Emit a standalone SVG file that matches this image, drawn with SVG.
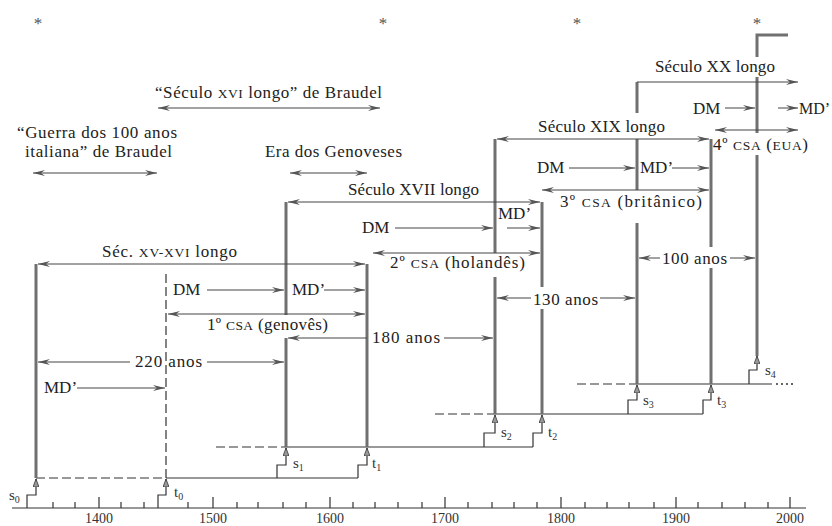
<svg xmlns="http://www.w3.org/2000/svg" width="832" height="526" viewBox="0 0 832 526">
<defs>
<style>
.t{font-family:"Liberation Serif","Times New Roman",serif;font-size:17px;fill:#222}
.sc{font-size:13.5px}
.yr{font-family:"Liberation Serif","Times New Roman",serif;font-size:14px;fill:#333;text-anchor:middle}
.st{font-family:"Liberation Serif","Times New Roman",serif;font-size:15px;fill:#333}
.sub{font-size:10px}
.star{font-family:"Liberation Serif",serif;font-size:17px;fill:#555;text-anchor:middle}
.thin{stroke:#444;stroke-width:1;fill:none}
.arr{stroke:#444;stroke-width:1;fill:none;marker-end:url(#ah)}
.darr{stroke:#444;stroke-width:1;fill:none;marker-start:url(#ah);marker-end:url(#ah)}
.sarr{stroke:#444;stroke-width:1;fill:none;marker-start:url(#ah)}
.thick{stroke:#707070;stroke-width:3;fill:none}
.dash{stroke:#333;stroke-width:1.2;fill:none;stroke-dasharray:9 4}
.dot{stroke:#333;stroke-width:1.5;fill:none;stroke-dasharray:2 3}
.lev{stroke:#333;stroke-width:1.2;fill:none}
.step{stroke:#333;stroke-width:1.2;fill:none;marker-end:url(#up)}
.axis{stroke:#333;stroke-width:1.2;fill:none}
</style>
<marker id="ah" viewBox="0 0 12 6" refX="12" refY="3" markerWidth="12" markerHeight="6" markerUnits="userSpaceOnUse" orient="auto-start-reverse"><path d="M0,0 L12,3 L0,6 L4,3 Z" fill="#555"/></marker>
<marker id="up" viewBox="0 0 8 6" refX="8" refY="3" markerWidth="8" markerHeight="6" markerUnits="userSpaceOnUse" orient="auto"><path d="M0,0 L8,3 L0,6 Z" fill="#999" stroke="#333" stroke-width="0.8"/></marker>
</defs>
<rect width="832" height="526" fill="#fff"/>

<g id="stars">
<text class="star" x="38" y="29">*</text>
<text class="star" x="383" y="29">*</text>
<text class="star" x="577" y="29">*</text>
<text class="star" x="757" y="29">*</text>
</g>

<g id="axis">
<path class="axis" d="M12,508 H806"/>
<path class="axis" d="M99,497V508 M213,497V508 M330,497V508 M445,497V508 M561,497V508 M676,497V508 M790,497V508"/>
<path class="axis" d="M53,502V508 M75,502V508 M121,502V508 M144,502V508 M188,502V508 M237,502V508 M258,502V508 M283,502V508 M306,502V508 M353,502V508 M375,502V508 M398,502V508 M422,502V508 M468,502V508 M492,502V508 M514,502V508 M537,502V508 M585,502V508 M607,502V508 M629,502V508 M654,502V508 M698,502V508 M722,502V508 M745,502V508 M768,502V508"/>
<text class="yr" x="99" y="522.5">1400</text>
<text class="yr" x="213" y="522.5">1500</text>
<text class="yr" x="330" y="522.5">1600</text>
<text class="yr" x="445" y="522.5">1700</text>
<text class="yr" x="561" y="522.5">1800</text>
<text class="yr" x="676" y="522.5">1900</text>
<text class="yr" x="790" y="522.5">2000</text>
</g>

<g id="braudel">
<text class="t" x="155" y="98" textLength="227" lengthAdjust="spacing">“Século <tspan class="sc">XVI</tspan> longo” de Braudel</text>
<text class="t" x="17" y="138" textLength="160" lengthAdjust="spacing">“Guerra dos 100 anos</text>
<text class="t" x="25" y="157" textLength="147" lengthAdjust="spacing">italiana” de Braudel</text>
<text class="t" x="265" y="157" textLength="137" lengthAdjust="spacing">Era dos Genoveses</text>
</g>

<g id="levels">
<path class="dash" d="M36,478 H166"/>
<path class="lev" d="M166,478 H358"/>
<path class="dash" d="M216,447 H286"/>
<path class="lev" d="M286,447 H533"/>
<path class="dash" d="M435,414 H495"/>
<path class="lev" d="M495,414 H703"/>
<path class="dash" d="M577,384 H637"/>
<path class="lev" d="M637,384 H772"/>
<path class="dot" d="M776,384 H794"/>
</g>

<g id="signals">
<path class="step" d="M27,508 V495 H36 V479"/>
<path class="step" d="M158,508 V495 H166 V479"/>
<path class="step" d="M277,478 V465 H286 V448"/>
<path class="step" d="M358,478 V465 H367 V448"/>
<path class="step" d="M484,447 V433 H495 V415"/>
<path class="step" d="M533,447 V433 H542 V415"/>
<path class="step" d="M628,414 V400 H637 V385"/>
<path class="step" d="M703,414 V400 H711 V385"/>
<path class="step" d="M749,384 V370 H757 V356"/>
<text class="st" x="9" y="500">s<tspan class="sub" dy="3">0</tspan></text>
<text class="st" x="174" y="497">t<tspan class="sub" dy="3">0</tspan></text>
<text class="st" x="293" y="468">s<tspan class="sub" dy="3">1</tspan></text>
<text class="st" x="372" y="468">t<tspan class="sub" dy="3">1</tspan></text>
<text class="st" x="501" y="437">s<tspan class="sub" dy="3">2</tspan></text>
<text class="st" x="548" y="437">t<tspan class="sub" dy="3">2</tspan></text>
<text class="st" x="643" y="405">s<tspan class="sub" dy="3">3</tspan></text>
<text class="st" x="717" y="405">t<tspan class="sub" dy="3">3</tspan></text>
<text class="st" x="765" y="375">s<tspan class="sub" dy="3">4</tspan></text>
</g>

<g id="verticals">
<path class="thick" d="M36,478 V264"/>
<path class="dash" d="M166,478 V270" stroke-width="1.6"/>
<path class="thick" d="M286,447 V338 M286,315 V202"/>
<path class="thick" d="M367,447 V264"/>
<path class="thick" d="M495,414 V277 M495,253 V139"/>
<path class="thick" d="M542,414 V309 M542,287 V202"/>
<path class="thick" d="M637,384 V223 M637,190 V139 M637,113 V82"/>
<path class="thick" d="M711,384 V268 M711,247 V139"/>
<path class="thick" d="M757,356 V155 M757,133 V77 M757,57 V35 H788"/>
</g>

<g id="cycle-xv-xvi">
<text class="t" x="102" y="257" textLength="135" lengthAdjust="spacing">Séc. <tspan class="sc">XV-XVI</tspan> longo</text>
<text class="t" x="173" y="295">DM</text>
<text class="t" x="292" y="295">MD’</text>
<text class="t" x="207" y="330" textLength="121" lengthAdjust="spacing">1º <tspan class="sc">CSA</tspan> (genovês)</text>
<text class="t" x="44" y="393">MD’</text>
<text class="t" x="135" y="367" textLength="67" lengthAdjust="spacing">220 anos</text>
<text class="t" x="372" y="343" textLength="68" lengthAdjust="spacing">180 anos</text>
</g>

<g id="cycle-xvii">
<text class="t" x="348" y="195" textLength="131" lengthAdjust="spacing">Século XVII longo</text>
<text class="t" x="362" y="233">DM</text>
<text class="t" x="498" y="219">MD’</text>
<text class="t" x="390" y="268" textLength="135" lengthAdjust="spacing">2º <tspan class="sc">CSA</tspan> (holandês)</text>
<text class="t" x="533" y="305" textLength="65" lengthAdjust="spacing">130 anos</text>
</g>

<g id="cycle-xix">
<text class="t" x="538" y="132" textLength="127" lengthAdjust="spacing">Século XIX longo</text>
<text class="t" x="537" y="173">DM</text>
<text class="t" x="640" y="173">MD’</text>
<text class="t" x="560" y="207" textLength="142" lengthAdjust="spacing">3º <tspan class="sc">CSA</tspan> (britânico)</text>
<text class="t" x="662" y="264" textLength="65" lengthAdjust="spacing">100 anos</text>
</g>

<g id="cycle-xx">
<text class="t" x="655" y="72" textLength="120" lengthAdjust="spacing">Século XX longo</text>
<text class="t" x="693" y="114">DM</text>
<text class="t" x="799" y="114" style="font-size:16px">MD’</text>
<text class="t" x="713" y="150" textLength="95" lengthAdjust="spacing">4º <tspan class="sc">CSA</tspan> (<tspan class="sc">EUA</tspan>)</text>
</g>

<g id="connectors">
<path class="darr" d="M158,108 H380"/>
<path class="darr" d="M33,173 H157"/>
<path class="darr" d="M290,173 H367"/>
<path class="darr" d="M38,264 H365"/>
<path class="darr" d="M288,202 H540"/>
<path class="darr" d="M497,139 H709"/>
<path class="arr" d="M637,82 H798"/>
<path class="arr" d="M207,290 H284"/>
<path class="arr" d="M324,290 H365"/>
<path class="darr" d="M168,314 H365"/>
<path class="sarr" d="M288,338 H367"/>
<path class="arr" d="M444,338 H493"/>
<path class="sarr" d="M38,362 H130"/>
<path class="arr" d="M207,362 H284"/>
<path class="arr" d="M77,388 H165"/>
<path class="arr" d="M395,228 H493"/>
<path class="arr" d="M507,228 H540"/>
<path class="darr" d="M373,253 H540"/>
<path class="sarr" d="M497,298 H531"/>
<path class="arr" d="M600,298 H635"/>
<path class="arr" d="M569,168 H635"/>
<path class="arr" d="M672,168 H709"/>
<path class="darr" d="M542,190 H709"/>
<path class="sarr" d="M639,258 H660"/>
<path class="arr" d="M730,258 H755"/>
<path class="arr" d="M725,108 H755"/>
<path class="arr" d="M778,108 H798"/>
<path class="darr" d="M715,130 H798"/>
</g>
</svg>
